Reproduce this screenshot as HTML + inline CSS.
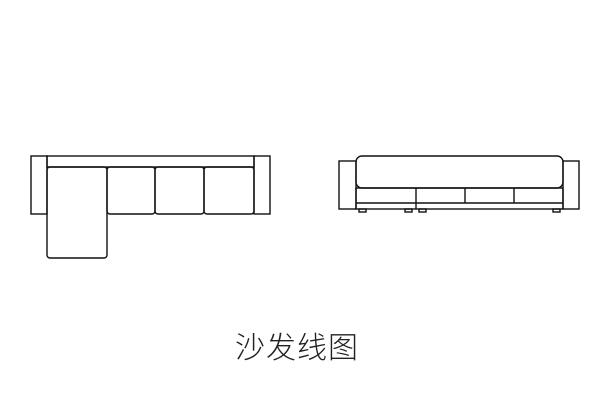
<!DOCTYPE html>
<html><head><meta charset="utf-8"><style>
body{margin:0;background:#fff;width:600px;height:400px;overflow:hidden;position:relative}
svg{position:absolute;left:0;top:0}
.t{position:absolute;left:234px;top:323px;width:126px;text-align:center;font:300 30px "Liberation Sans","Noto Sans CJK SC",sans-serif;color:#222;letter-spacing:1px;white-space:nowrap}
</style></head><body>
<svg width="600" height="400" fill="none" stroke="#111" stroke-width="1.4">
<rect x="31" y="156" width="16" height="58"/>
<rect x="47" y="156" width="207" height="11"/>
<rect x="254" y="156" width="16" height="58"/>
<rect x="47" y="167" width="60" height="91" rx="3"/>
<rect x="107" y="167" width="48" height="47" rx="3"/>
<rect x="155" y="167" width="49" height="47" rx="3"/>
<rect x="204" y="167" width="50" height="47" rx="3"/>
<rect x="339" y="161" width="17" height="48"/>
<rect x="563" y="161" width="16" height="48"/>
<rect x="356" y="156" width="207" height="32" rx="6"/>
<rect x="356" y="188" width="207" height="21"/>
<line x1="356" y1="203" x2="563" y2="203"/>
<line x1="416" y1="188" x2="416" y2="209"/>
<line x1="465" y1="188" x2="465" y2="203"/>
<line x1="514" y1="188" x2="514" y2="203"/>
<rect x="359" y="209" width="7" height="3"/>
<rect x="405" y="209" width="7" height="3"/>
<rect x="419" y="209" width="7" height="3"/>
<rect x="553" y="209" width="7" height="3"/>
</svg>
<div class="t">沙发线图</div>
</body></html>
